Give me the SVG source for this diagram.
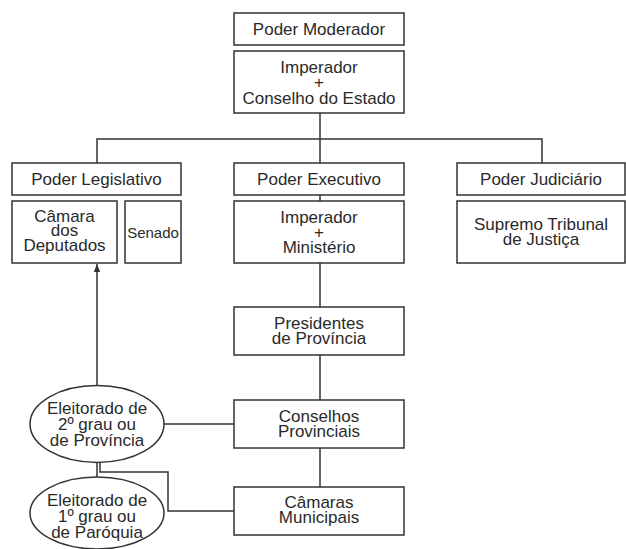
<svg xmlns="http://www.w3.org/2000/svg" width="626" height="549" viewBox="0 0 626 549">
<defs>
<style>
.b{fill:#fff;stroke:#333;stroke-width:1.5}
.t{font-family:"Liberation Sans",Arial,sans-serif;font-size:17px;fill:#2a2a2a;text-anchor:middle}
.c{fill:none;stroke:#333;stroke-width:1.5}
</style>
<marker id="ah" viewBox="0 0 10 10" refX="10" refY="5" markerWidth="8" markerHeight="8" orient="auto" markerUnits="userSpaceOnUse">
<path d="M0,1 L10,5 L0,9 Z" fill="#333"/>
</marker>
</defs>
<rect width="626" height="549" fill="#fff"/>
<g id="connectors">
<path class="c" d="M320,113 V163 M97,163 V139 H542 V163 M320,195 V201 M320,263 V307 M320,355 V400 M320,448 V487 M164,424 H234 M97,463 V477 M100,463 V472 H168 V511 H234"/>
<path class="c" d="M97,385 V264" marker-end="url(#ah)"/>
</g>
<g id="moderador"><rect class="b" x="234" y="13" width="170" height="32"/><text class="t" x="319" y="35">Poder Moderador</text></g>
<g id="imperador-conselho"><rect class="b" x="234" y="51" width="170" height="62"/><text class="t" x="319" y="73">Imperador</text><text class="t" x="319" y="88">+</text><text class="t" x="319" y="104">Conselho do Estado</text></g>
<g id="legislativo"><rect class="b" x="12" y="163" width="169" height="32"/><text class="t" x="96.5" y="185">Poder Legislativo</text></g>
<g id="camara"><rect class="b" x="12" y="201" width="105" height="62"/><text class="t" x="64.5" y="221.5">Câmara</text><text class="t" x="64.5" y="236">dos</text><text class="t" x="64.5" y="251">Deputados</text></g>
<g id="senado"><rect class="b" x="125" y="201" width="56" height="62"/><text class="t" x="153" y="238" style="font-size:15px">Senado</text></g>
<g id="executivo"><rect class="b" x="234" y="163" width="170" height="32"/><text class="t" x="319" y="185">Poder Executivo</text></g>
<g id="imperador-ministerio"><rect class="b" x="234" y="201" width="170" height="62"/><text class="t" x="319" y="223">Imperador</text><text class="t" x="319" y="238">+</text><text class="t" x="319" y="253">Ministério</text></g>
<g id="judiciario"><rect class="b" x="457" y="163" width="168" height="32"/><text class="t" x="541" y="185">Poder Judiciário</text></g>
<g id="supremo"><rect class="b" x="457" y="201" width="168" height="62"/><text class="t" x="541" y="230">Supremo Tribunal</text><text class="t" x="541" y="245">de Justiça</text></g>
<g id="presidentes"><rect class="b" x="234" y="307" width="170" height="48"/><text class="t" x="319" y="329">Presidentes</text><text class="t" x="319" y="344">de Província</text></g>
<g id="conselhos"><rect class="b" x="234" y="400" width="170" height="48"/><text class="t" x="319" y="422">Conselhos</text><text class="t" x="319" y="437">Provinciais</text></g>
<g id="camaras"><rect class="b" x="234" y="487" width="170" height="48"/><text class="t" x="319" y="507.5">Câmaras</text><text class="t" x="319" y="523">Municipais</text></g>
<g id="eleitorado2"><ellipse class="b" cx="97" cy="424" rx="67" ry="38.5"/><text class="t" x="97" y="414">Eleitorado de</text><text class="t" x="97" y="430">2º grau ou</text><text class="t" x="97" y="446">de Província</text></g>
<g id="eleitorado1"><ellipse class="b" cx="97" cy="513" rx="67" ry="36"/><text class="t" x="97" y="505.5">Eleitorado de</text><text class="t" x="97" y="521.5">1º grau ou</text><text class="t" x="97" y="537.5">de Paróquia</text></g>
</svg>
